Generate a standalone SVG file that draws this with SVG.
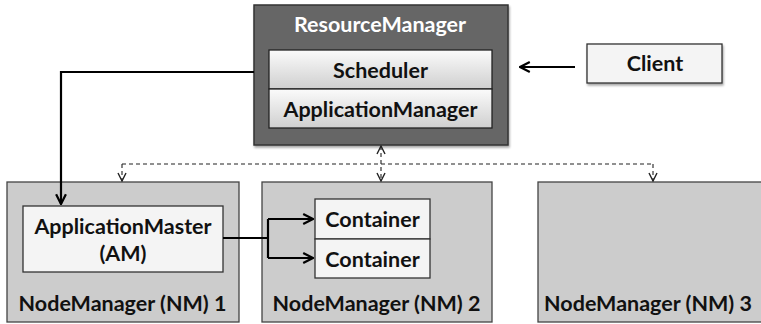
<svg xmlns="http://www.w3.org/2000/svg" width="761" height="324" viewBox="0 0 761 324">
<style>
.t{font-family:Lato,"Open Sans",sans-serif;font-weight:bold;font-size:21.5px;fill:#111;text-anchor:middle;dominant-baseline:central}
.w{fill:#fff}
.nm{fill:#cccccc;stroke:#444;stroke-width:1.3}
.lt{fill:#f4f4f4;stroke:#333;stroke-width:1.3}
.c{fill:none;stroke:#000;stroke-width:2.2}
.d{fill:none;stroke:#222;stroke-width:1.1;stroke-dasharray:4 3}
</style>
<defs>
<linearGradient id="g" x1="0" y1="0" x2="0" y2="1">
<stop offset="0" stop-color="#fbfbfb"/>
<stop offset="1" stop-color="#cfcfcf"/>
</linearGradient>
<filter id="sh" x="-10%" y="-10%" width="130%" height="140%">
<feDropShadow dx="1" dy="2" stdDeviation="1.2" flood-color="#000" flood-opacity="0.35"/>
</filter>
<marker id="ah" viewBox="0 0 10 10" refX="9" refY="5" markerWidth="14" markerHeight="14" orient="auto-start-reverse" markerUnits="userSpaceOnUse">
<path d="M2,1.5 L9,5 L2,8.5" fill="none" stroke="#000" stroke-width="1.6"/>
</marker>
<marker id="ad" viewBox="0 0 10 10" refX="9" refY="5" markerWidth="10" markerHeight="10" orient="auto-start-reverse" markerUnits="userSpaceOnUse">
<path d="M1,1 L9,5 L1,9" fill="none" stroke="#222" stroke-width="1.4"/>
</marker>
</defs>

<g id="resourcemanager">
<rect x="254" y="5" width="254" height="140" fill="#666" stroke="#333" stroke-width="1.5" filter="url(#sh)"/>
<text class="t w" x="380" y="24">ResourceManager</text>
</g>
<g id="scheduler">
<rect x="269" y="50" width="223" height="39" fill="url(#g)" stroke="#222" stroke-width="1.3"/>
<text class="t" x="380.5" y="70">Scheduler</text>
</g>
<g id="applicationmanager">
<rect x="269" y="89" width="223" height="39" fill="url(#g)" stroke="#222" stroke-width="1.3"/>
<text class="t" x="380.5" y="109">ApplicationManager</text>
</g>
<g id="client">
<rect x="587" y="44" width="135" height="39" class="lt" filter="url(#sh)"/>
<text class="t" x="655" y="63">Client</text>
</g>

<g id="nm1">
<rect x="7" y="182" width="232" height="140" class="nm"/>
<text class="t" x="122.5" y="303">NodeManager (NM) 1</text>
</g>
<g id="am">
<rect x="23" y="206" width="200" height="66" class="lt"/>
<text class="t" x="123" y="226">ApplicationMaster</text>
<text class="t" x="123" y="253">(AM)</text>
</g>
<g id="nm2">
<rect x="262" y="182" width="230" height="140" class="nm"/>
<text class="t" x="376.5" y="303">NodeManager (NM) 2</text>
</g>
<g id="container1">
<rect x="315" y="199" width="115" height="40" class="lt"/>
<text class="t" x="372.5" y="219">Container</text>
</g>
<g id="container2">
<rect x="315" y="239" width="115" height="39" class="lt"/>
<text class="t" x="372.5" y="258.5">Container</text>
</g>
<g id="nm3">
<rect x="538" y="182" width="230" height="140" class="nm"/>
<text class="t" x="648" y="303">NodeManager (NM) 3</text>
</g>

<g id="connectors">
<path class="c" d="M575,67 H520" marker-end="url(#ah)"/>
<path class="c" d="M254,72 H61 V204" marker-end="url(#ah)"/>
<path class="c" d="M223,238 H268"/>
<path class="c" d="M268,219 V258"/>
<path class="c" d="M268,219 H313" marker-end="url(#ah)"/>
<path class="c" d="M268,258 H313" marker-end="url(#ah)"/>
<path class="d" d="M122,164 H653"/>
<path class="d" d="M122,164 V181" marker-end="url(#ad)"/>
<path class="d" d="M653,164 V181" marker-end="url(#ad)"/>
<path class="d" d="M381,146 V181" marker-start="url(#ad)" marker-end="url(#ad)"/>
</g>
</svg>
